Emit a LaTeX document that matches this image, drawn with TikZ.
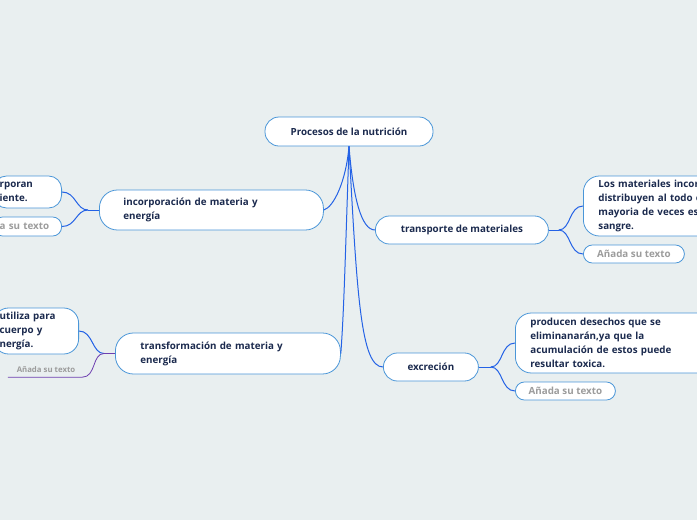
\documentclass[tikz,border=0pt]{standalone}
\usepackage{fontspec}
\setmainfont{Open Sans}
\definecolor{mapBg}{HTML}{E9EFF0}
\definecolor{mapLine}{HTML}{2462E6}
\definecolor{mapEdge}{HTML}{4A96D8}
\definecolor{mapText}{HTML}{1B2A4E}
\definecolor{mapGray}{HTML}{9C9C9C}
\definecolor{mapPurple}{HTML}{6E3FB0}
\usetikzlibrary{positioning}

\begin{document}
\begin{tikzpicture}[x=1pt, y=-1pt,
  root/.style={rectangle, rounded corners=14pt, draw=mapEdge, fill=white,
               line width=0.8pt, minimum width=168pt, minimum height=29pt,
               font=\fontsize{9.8}{14}\selectfont\bfseries, text=mapText},
  topic/.style={rectangle, rounded corners=18pt, draw=mapEdge, fill=white,
                line width=0.8pt, align=left, inner ysep=0pt,
                font=\fontsize{9.8}{14}\selectfont\bfseries, text=mapText},
  leaf/.style={rectangle, rounded corners=13pt, draw=mapEdge, fill=white,
               line width=0.8pt, align=left, inner ysep=0pt,
               font=\fontsize{9.8}{13.8}\selectfont\bfseries, text=mapText},
  note/.style={rectangle, rounded corners=9pt, draw=mapEdge, fill=white,
               line width=0.8pt, minimum height=18pt, inner ysep=0pt,
               font=\fontsize{9.8}{14}\selectfont\bfseries, text=mapGray},
  link/.style={draw=mapLine, line width=1pt},
]
  \useasboundingbox (0,0) rectangle (697,520);
  \clip (0,0) rectangle (697,520);
  \fill[mapBg] (0,0) rectangle (697,520);

  % Root
  \node[root] (root) at (349,131.5) {Procesos de la nutrición};

  % Branches
  \node[topic, anchor=west, text width=176pt, inner xsep=24pt,
        minimum height=40pt] (b1) at (99,210)
        {incorporación de materia y\\energía};
  \node[topic, anchor=west, text width=175pt, inner xsep=25pt,
        minimum height=41pt] (b2) at (115,353.5)
        {transformación de materia y\\energía};
  \node[topic, anchor=west, align=center, minimum width=173pt,
        minimum height=28pt, rounded corners=14pt] (b3) at (375,230)
        {transporte de materiales};
  \node[topic, anchor=west, align=center, minimum width=95pt,
        minimum height=28pt, rounded corners=14pt] (b4) at (383,367)
        {excreción};

  % Column 1 (incorporación)
  \coordinate (j1) at ([xshift=-11pt]b1.west);
  \node[leaf, anchor=east, text width=56pt, inner xsep=6pt,
        minimum height=32pt] (c1a) at (62,192) {rporan\\iente.};
  \node[note, anchor=east, text width=56pt, inner xsep=6pt, align=left,
        minimum height=19pt] (c1b) at (62,226.5) {a su texto};

  % Column 2 (transformación)
  \coordinate (j2) at ([xshift=-11pt]b2.west);
  \node[leaf, anchor=east, text width=73pt, inner xsep=6pt,
        minimum height=46pt, rounded corners=15pt] (c2a) at (79,331)
        {utiliza para\\cuerpo y\\nergía.};
  \node[font=\fontsize{7.8}{9}\selectfont\bfseries, text=mapGray,
        minimum width=68pt, minimum height=14pt, inner sep=0pt]
        (c2b) at (46,370) {Añada su texto};

  % Column 3 (transporte)
  \coordinate (j3) at ([xshift=10pt]b3.east);
  \node[leaf, anchor=west, text width=170pt, inner xsep=15pt,
        minimum height=60pt, rounded corners=16pt] (c3a) at (583,206)
        {Los materiales incor\\distribuyen al todo e\\mayoria de veces es\\sangre.};
  \node[note, anchor=west, minimum width=101pt] (c3b) at (583,254)
        {Añada su texto};

  % Column 4 (excreción)
  \coordinate (j4) at ([xshift=12pt]b4.east);
  \node[leaf, anchor=west, text width=170pt, inner xsep=15pt,
        minimum height=60pt, rounded corners=16pt] (c4a) at (515,343)
        {producen desechos que se\\eliminanarán,ya que la\\acumulación de estos puede\\resultar toxica.};
  \node[note, anchor=west, minimum width=100pt] (c4b) at (515,391)
        {Añada su texto};

  % Connectors from the root
  \draw[link] (root.south) .. controls +(-3,35) and +(10,-3) .. (b1.east);
  \draw[link] (root.south) .. controls +(-4,120) and +(3,-40) .. (b2.east);
  \draw[link] (root.south) .. controls +(4,50) and +(-14,0) .. (b3.west);
  \draw[link] (root.south) .. controls +(8,150) and +(-22,0) .. (b4.west);

  % Connectors to the leaves
  \draw[link] (b1.west) -- (j1);
  \draw[link] (j1) .. controls +(-12,0) and +(14,0) .. (c1a.east);
  \draw[link] (j1) .. controls +(-12,0) and +(14,0) .. (c1b.east);
  \draw[draw=mapPurple, line width=1pt] (b2.west) -- (j2);
  \draw[link] (j2) .. controls +(-12,0) and +(14,0) .. (c2a.east);
  \draw[draw=mapPurple, line width=0.8pt] (j2) .. controls +(-12,0) and +(14,0)
        .. ([xshift=2pt]c2b.south east) -- ([xshift=-4pt]c2b.south west);
  \draw[link] (b3.east) -- (j3);
  \draw[link] (j3) .. controls +(12,0) and +(-14,0) .. (c3a.west);
  \draw[link] (j3) .. controls +(12,0) and +(-14,0) .. (c3b.west);
  \draw[link] (b4.east) -- (j4);
  \draw[link] (j4) .. controls +(12,0) and +(-14,0) .. (c4a.west);
  \draw[link] (j4) .. controls +(12,0) and +(-14,0) .. (c4b.west);
\end{tikzpicture}
\end{document}
